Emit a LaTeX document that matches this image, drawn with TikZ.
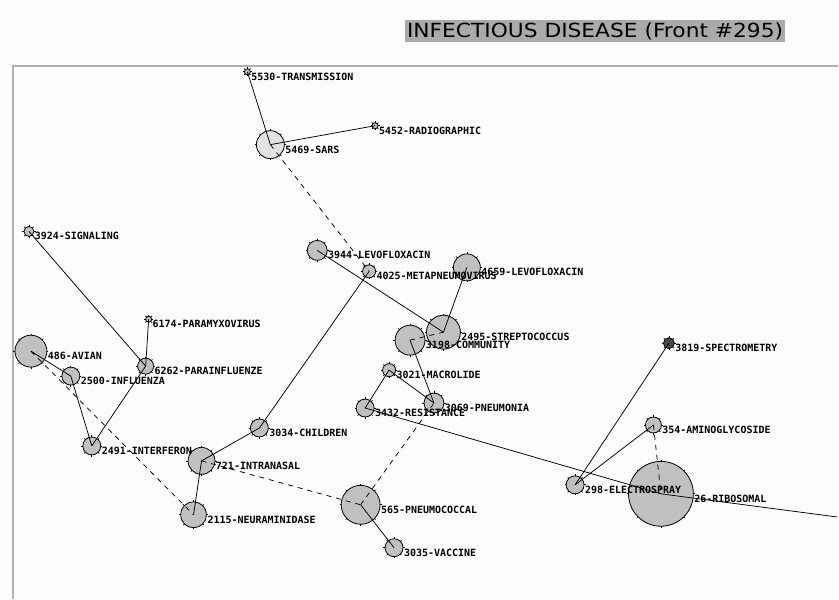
\documentclass[tikz,border=0pt]{standalone}
\usepackage{fontspec}
\usepackage{graphicx}
\setmainfont{DejaVu Sans}
\newfontfamily\labelfont{DejaVu Sans Mono}
\usetikzlibrary{calc}

\definecolor{pagebg}{HTML}{FCFCFC}
\definecolor{framegray}{HTML}{B2B2B2}
\definecolor{titlebar}{HTML}{AAAAAA}
\definecolor{bubgray}{HTML}{C0C0C0}
\definecolor{bublight}{HTML}{E2E2E2}
\definecolor{bubdark}{HTML}{4A4A4A}

\pgfdeclarelayer{bubbles}
\pgfsetlayers{bubbles,main}

\tikzset{
  bub/.style={circle, draw=black, line width=0.8pt, inner sep=0pt, outer sep=0pt},
  tickmark/.style={draw=black, line width=0.7pt},
  lbl/.style={anchor=base west, inner sep=0pt, outer sep=0pt,
    font=\labelfont\bfseries\fontsize{10}{10}\selectfont},
  link/.style={draw=black, line width=0.75pt},
  weak/.style={link, dash pattern=on 5pt off 5pt},
  frameline/.style={draw=framegray, line width=2pt},
}

% \bubble{name}{x}{y}{radius}{fill}{label}
% circles sit on the lower layer so that links and labels run over them
\newcommand\bubble[6]{%
  \begin{pgfonlayer}{bubbles}
    \node[bub, fill=#5, minimum size=2*#4 pt] (#1) at (#2,#3) {};
    \foreach \a in {0,45,...,315}{\draw[tickmark] (#1.\a) -- ++(\a:1.6pt);}
  \end{pgfonlayer}
  \node[lbl] (#1-txt) at (#2+#4+1,#3+8.5) {#6};
}

\begin{document}
\begin{tikzpicture}[x=1pt, y=-1pt]
  \begin{pgfonlayer}{bubbles}
    \fill[pagebg] (0,0) rectangle (839,599);
    % panel frame
    \draw[frameline] (13,600) -- (13,66) -- (840,66);
  \end{pgfonlayer}
  \useasboundingbox (0,0) rectangle (839,599);
  \clip (0,0) rectangle (839,599);

  % heading
  \node[fill=titlebar, minimum width=381pt, minimum height=22pt, inner sep=0pt,
        anchor=center] (title) at (596.5,31)
        {\resizebox{377pt}{\height}{\fontsize{19.5}{20}\selectfont INFECTIOUS DISEASE (Front \#295)}};

  % terms
  \bubble{trans}{248}{72}{3}{bubgray}{5530-TRANSMISSION}
  \bubble{radio}{376}{126}{3}{bubgray}{5452-RADIOGRAPHIC}
  \bubble{sars}{271}{145}{14}{bublight}{5469-SARS}
  \bubble{signal}{29}{232}{5}{bubgray}{3924-SIGNALING}
  \bubble{paramyxo}{149}{320}{3}{bubgray}{6174-PARAMYXOVIRUS}
  \bubble{avian}{31}{352}{16}{bubgray}{486-AVIAN}
  \bubble{parainf}{146}{367}{8}{bubgray}{6262-PARAINFLUENZE}
  \bubble{influenza}{71}{377}{9}{bubgray}{2500-INFLUENZA}
  \bubble{interferon}{92}{447}{9}{bubgray}{2491-INTERFERON}
  \bubble{intranasal}{202}{462}{13.5}{bubgray}{721-INTRANASAL}
  \bubble{neuram}{194}{516}{13}{bubgray}{2115-NEURAMINIDASE}
  \bubble{children}{260}{429}{9}{bubgray}{3034-CHILDREN}
  \bubble{levoA}{318}{251}{10}{bubgray}{3944-LEVOFLOXACIN}
  \bubble{metapneu}{370}{272}{6.5}{bubgray}{4025-METAPNEUMOVIRUS}
  \bubble{levoB}{468}{268}{13.5}{bubgray}{4659-LEVOFLOXACIN}
  \bubble{strep}{444.5}{333}{17}{bubgray}{2495-STREPTOCOCCUS}
  \bubble{community}{411}{341}{15}{bubgray}{3198-COMMUNITY}
  \bubble{macrolide}{390}{371}{6.5}{bubgray}{3021-MACROLIDE}
  \bubble{pneumonia}{435}{404}{10}{bubgray}{3069-PNEUMONIA}
  \bubble{resist}{366}{409}{9}{bubgray}{3432-RESISTANCE}
  \bubble{pneumococcal}{361.5}{506}{19.5}{bubgray}{565-PNEUMOCOCCAL}
  \bubble{vaccine}{395}{549}{9}{bubgray}{3035-VACCINE}
  \bubble{spectro}{670.5}{344}{5.5}{bubdark}{3819-SPECTROMETRY}
  \bubble{amino}{655}{426}{8}{bubgray}{354-AMINOGLYCOSIDE}
  \bubble{electro}{576.5}{486}{9}{bubgray}{298-ELECTROSPRAY}
  \bubble{ribosomal}{662.5}{495}{32.5}{bubgray}{26-RIBOSOMAL}
  \coordinate (offright) at (845,519);

  % strong links
  \draw[link] (trans.center) -- (sars.center);
  \draw[link] (radio.center) -- (sars.center);
  \draw[link] (signal.center) -- (parainf.center);
  \draw[link] (paramyxo.center) -- (parainf.center);
  \draw[link] (avian.center) -- (influenza.center);
  \draw[link] (influenza.center) -- (interferon.center);
  \draw[link] (parainf.center) -- (interferon.center);
  \draw[link] (intranasal.center) -- (neuram.center);
  \draw[link] (intranasal.center) -- (children.center);
  \draw[link] (children.center) -- (metapneu.center);
  \draw[link] (levoA.center) -- (strep.center);
  \draw[link] (levoB.center) -- (strep.center);
  \draw[link] (community.center) -- (pneumonia.center);
  \draw[link] (macrolide.center) -- (resist.center);
  \draw[link] (macrolide.center) -- (pneumonia.center);
  \draw[link] (resist.center) -- (ribosomal.center);
  \draw[link] (ribosomal.center) -- (offright);
  \draw[link] (pneumococcal.center) -- (vaccine.center);
  \draw[link] (spectro.center) -- (electro.center);
  \draw[link] (amino.center) -- (electro.center);

  % weak links
  \draw[weak] (sars.center) -- (metapneu.center);
  \draw[weak] (avian.center) -- (neuram.center);
  \draw[weak] (intranasal.center) -- (pneumococcal.center);
  \draw[weak] (pneumococcal.center) -- (pneumonia.center);
  \draw[weak] (community.center) -- (strep.center);
  \draw[weak] (amino.center) -- (ribosomal.center);
\end{tikzpicture}
\end{document}
